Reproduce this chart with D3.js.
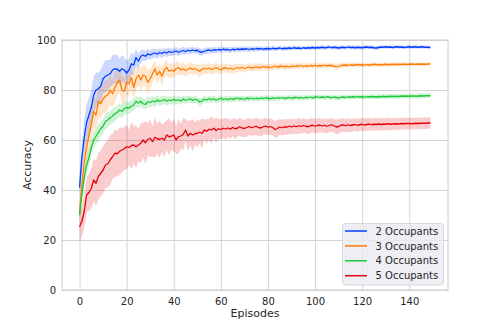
<!DOCTYPE html>
<html><head><meta charset="utf-8">
<script src="https://cdn.jsdelivr.net/npm/d3@7"></script>
<style>body{margin:0;background:#fff} text{font-family:"DejaVu Sans",sans-serif;fill:#262626}</style>
</head><body><svg id="c" width="498" height="332"></svg>
<script>
const seriesNames = ["2 Occupants","3 Occupants","4 Occupants","5 Occupants"];
const seriesColors = ["#023eff","#ff7c00","#1ac938","#e8000b"];
const xTicks = [0,20,40,60,80,100,120,140];
const yTicks = [0,20,40,60,80,100];

const mean2 = [41,53,61,67,70,73,78,80,80.5,81.5,
84.5,85.5,86,86.5,88,88.5,88.3,87.5,88.5,88,
86.8,88,90.5,90,93,91.5,93.5,94,93.5,94.5,
94,94.5,94.8,94.3,95,94.6,95.2,94.8,95.4,95,
95.3,95.6,95.1,95.5,95.8,95.4,95.9,95.6,96,95.7,
95.9,95.3,95.1,95.5,95.8,96,95.7,96.1,95.9,96.2,
96,96.3,96.1,96.2,95.9,96.3,96.1,96.4,96.2,96.4,
96.3,96.5,96.2,96.5,96.3,96.6,96.4,96.6,96.3,96.5,
96.6,96.4,96.7,96.5,96.6,96.8,96.5,96.7,96.6,96.8,
96.6,96.9,96.7,96.8,96.6,96.9,96.7,96.9,96.8,97,
96.8,97,96.9,97.1,96.9,97,97.2,96.9,97.1,97,
96.8,97,97.1,96.9,97.2,97,97.1,96.9,97.1,97,
96.9,97.1,97.2,97,97.1,96.9,96.8,97,97.2,97.1,
97.3,97.1,97.2,97,97.2,97.3,97.1,97.2,97,97.2,
97.3,97.1,97.3,97.2,97.1,97.3,97.2,97.1,97.1,97];
const band2 = [5,6,7,7.5,7,7,7.5,7,6.5,6.5,
6,6.5,6,5.5,6,5.5,6,5,5.5,5,
5,4.5,4.5,4,3.5,3,2.5,2.2,2,2.1,
1.8,2,1.7,1.9,1.6,1.8,1.5,1.7,1.6,1.5,
1.4,1.6,1.5,1.3,1.5,1.4,1.2,1.4,1.3,1.2,
1.3,1.5,1.4,1.2,1.3,1.1,1.2,1.3,1.1,1.2,
1.1,1.2,1,1.1,1.2,1,1.1,1,1.1,1,
0.9,1,1.1,0.9,1,0.9,1,0.8,0.9,1,
0.9,0.8,1,0.9,0.8,0.9,0.8,0.9,0.8,0.9,
0.8,0.9,0.7,0.8,0.9,0.8,0.7,0.8,0.9,0.8,
0.8,0.7,0.8,0.9,0.7,0.8,0.7,0.8,0.7,0.8,
0.9,0.8,0.7,0.8,0.7,0.8,0.7,0.8,0.7,0.8,
0.7,0.8,0.7,0.7,0.8,0.7,0.8,0.7,0.7,0.6,
0.7,0.6,0.7,0.7,0.6,0.7,0.6,0.7,0.6,0.6,
0.7,0.6,0.6,0.7,0.6,0.6,0.6,0.6,0.6,0.6];

const mean3 = [31,42,51,57,62,66,71.5,70,75.5,74.5,
76.5,77.5,78,80,78.5,81,83,84,80,79.5,
83,82.5,85,81,84.5,86,84,86,85.5,83,
84.5,86.5,88.5,86,87.5,85.5,88,89,87.5,88,
87.5,88.5,89,88,88.5,87.8,88.3,88.8,88.2,88.6,
88,87.5,88.3,88.7,88.4,88.8,88.2,88.6,89,88.5,
88.1,88.7,88.9,88.4,88.8,88.3,88.6,89,88.7,89.1,
88.6,88.9,89.2,88.8,89,89.3,88.9,89.1,89.4,89.1,
89.3,88.9,89.2,89.5,89.2,89.4,89.6,89.3,89.5,89.2,
89.6,89.4,89.7,89.5,89.8,89.4,89.7,89.5,89.8,89.6,
89.9,89.6,89.8,89.7,90,89.7,89.9,89.8,89.6,89.2,
89.5,89.8,89.9,90,89.8,90.1,89.9,90,90.2,90,
90.1,89.9,90.2,90,90.1,90.3,90.1,90.2,90,90.2,
90.3,90.1,90.2,90.3,90.2,90.3,90.2,90.3,90.3,90.2,
90.3,90.4,90.3,90.3,90.4,90.3,90.4,90.3,90.4,90.4];
const band3 = [4,5,6,6,6.5,6,6.5,6,6.5,6,
6,6.5,6,6,5.5,6,5.5,5,5.5,5,
5,4.5,5,4.5,4.5,4,4.5,4,4.5,5,
4,3.5,3.5,3.5,3,3.5,3,3,2.8,3,
2.5,2.8,2.5,2.3,2.5,2.2,2.4,2.1,2.3,2,
2.2,2.4,2,2.1,2,1.9,2.1,1.8,2,1.9,
1.8,1.9,1.7,1.8,1.9,1.7,1.8,1.6,1.7,1.6,
1.6,1.5,1.6,1.4,1.5,1.4,1.5,1.4,1.3,1.4,
1.3,1.4,1.3,1.2,1.3,1.2,1.3,1.2,1.2,1.3,
1.2,1.1,1.2,1.1,1.2,1.1,1,1.1,1,1.1,
1,1.1,1,0.9,1,1,0.9,1,1,1.2,
1.1,1,0.9,1,0.9,0.9,1,0.9,0.8,0.9,
0.8,0.9,0.8,0.8,0.9,0.8,0.8,0.7,0.8,0.7,
0.8,0.7,0.7,0.8,0.7,0.7,0.7,0.6,0.7,0.6,
0.6,0.7,0.6,0.6,0.6,0.6,0.6,0.6,0.6,0.6];

const mean4 = [30,38,45,50,53,57,60,61.5,63,64.5,
65.5,67.5,68,69,69.5,70.5,71,72,71.5,72.5,
73,72.8,73.5,74,75.5,74.8,75.5,74.5,74.2,75.3,
75,75.6,75.2,76,75.4,75.8,76.2,75.5,76,75.7,
76.3,75.8,76.1,75.6,76.4,75.9,76.2,76.5,75.8,76.3,
76,75.2,75.6,76.4,76,76.6,76.1,76.5,75.9,76.3,
76.7,76.2,76.5,76.1,76.6,76.3,76.5,76.8,76.4,76.6,
76.3,76.7,76.5,76.8,76.4,76.7,76.5,76.8,76.6,76.9,
76.7,76.5,76.8,76.6,76.9,76.7,77,76.6,76.8,77,
76.7,76.9,77.1,76.8,77,76.7,77.1,76.9,77.2,76.9,
77.1,77.3,77,77.2,77,77.3,77.1,76.9,77.2,77,
76.8,77.1,77.2,77,77.3,77.1,77.3,77.1,77.4,77.2,
77.3,77.1,77.4,77.2,77.4,77.3,77.2,77.4,77.3,77.5,
77.3,77.4,77.5,77.4,77.5,77.4,77.5,77.6,77.5,77.6,
77.5,77.6,77.6,77.5,77.6,77.7,77.6,77.7,77.7,77.7];
const band4 = [3,3,3.5,3.5,3.5,3.5,3.5,3,3.5,3,
3,3,3,2.8,3,2.8,2.6,2.8,2.6,2.5,
2.5,2.4,2.5,2.3,2.2,2.3,2.1,2.2,2,2.1,
2,1.9,2,1.8,1.9,1.8,1.7,1.8,1.7,1.6,
1.7,1.6,1.5,1.6,1.5,1.6,1.4,1.5,1.4,1.5,
1.4,1.5,1.4,1.3,1.4,1.3,1.4,1.3,1.2,1.3,
1.3,1.2,1.3,1.2,1.3,1.2,1.2,1.1,1.2,1.1,
1.2,1.1,1.2,1.1,1.1,1.2,1.1,1.1,1,1.1,
1.1,1,1.1,1,1.1,1,1,1.1,1,1,
1,1.1,1,1,0.9,1,1,0.9,1,1,
0.9,1,1,0.9,1,0.9,1,0.9,0.9,1,
0.9,1,0.9,0.9,1,0.9,0.9,1,0.9,0.9,
1,0.9,0.9,1,0.9,0.9,1,0.9,0.9,1,
0.9,0.9,1,0.9,0.9,1,0.9,0.9,1,0.9,
0.9,1,0.9,0.9,1,0.9,0.9,1,0.9,0.9];

const mean5 = [25.3,27.5,31.5,38,39,40.7,44,42.7,45.5,46.7,
48,50,50.5,52,53.3,54.7,54.5,55.5,56,56.5,
57.3,57,57.8,58,57.3,58,58.7,60,58.9,60.3,
60.7,59.3,61.1,60.5,60.3,60.7,60,62,61.3,61.5,
62,60,61.3,61.6,62.2,64,61.6,62.7,62,62.5,
62.7,63.1,62.7,64,63.5,64.3,64,64.7,63.8,64.5,
64.2,64.7,64.4,64.8,64.3,65,64.5,64.7,65.3,64.8,
64.6,65,65.4,64.9,65.2,65.5,65,64.8,65.3,65.6,
65.1,65.4,65,64.2,64.6,65.2,64.9,65.3,65.1,65.5,
65.2,65.6,65.3,65.7,65.4,65.8,65.5,65.3,65.7,65.9,
65.5,65.8,66,65.6,65.9,65.5,65.8,66.1,65.7,65.2,
65.4,65.9,66,65.7,66.1,65.8,66,66.2,65.9,66.1,
66.3,66,66.2,66.4,66.1,66.3,66.2,66.4,66.2,66.4,
66.3,66.5,66.3,66.4,66.5,66.4,66.5,66.6,66.5,66.6,
66.6,66.5,66.6,66.7,66.6,66.7,66.7,66.7,66.8,66.8];
const band5 = [6,6,6.5,7,7.5,8,8.5,9,9.5,9,
9.5,9,9.5,10,9,9.5,9,9.5,9,8.5,
9,7,9.5,7.5,8.5,6.5,8,7,8.5,6.5,
7.5,6,8,6,7.5,5.5,7,6,7.5,5.5,
6.5,5.5,7,5,6.5,4.5,6,5,6.5,4.5,
5.5,4.5,6,4,5,4,5.5,3.8,5,4,
4,3.8,4.4,3.6,3.8,3.5,4.1,3.4,3.6,3.5,
3.4,3.8,3.3,3.5,3.2,3.6,3.3,3.5,3.2,3.3,
3.2,3.4,3.1,3.3,3.5,3.1,3.2,3,3.2,3,
3.1,2.9,3,3.1,2.9,3,2.8,3,2.9,2.8,
2.9,2.8,2.9,2.7,2.8,2.9,2.7,2.8,2.7,3,
2.9,2.8,2.7,2.6,2.7,2.6,2.7,2.5,2.6,2.5,
2.6,2.5,2.6,2.5,2.4,2.5,2.4,2.5,2.4,2.5,
2.4,2.5,2.4,2.4,2.3,2.4,2.3,2.4,2.3,2.3,
2.4,2.3,2.3,2.4,2.3,2.3,2.3,2.3,2.3,2.3];

const means = [mean2, mean3, mean4, mean5];
const bands = [band2, band3, band4, band5];

const svg = d3.select("#c");
const L = 62, R = 448, T = 40, B = 290;
const x = d3.scaleLinear().domain([-7.45, 156.45]).range([L, R]);
const y = d3.scaleLinear().domain([0, 100]).range([B, T]);

const gx = svg.append("g").attr("transform", `translate(0,${B})`)
  .call(d3.axisBottom(x).tickValues(xTicks).tickSizeInner(-(B - T)).tickSizeOuter(0).tickPadding(8));
const gy = svg.append("g").attr("transform", `translate(${L},0)`)
  .call(d3.axisLeft(y).tickValues(yTicks).tickSizeInner(-(R - L)).tickSizeOuter(0).tickPadding(6));
[gx, gy].forEach(g => {
  g.select(".domain").remove();
  g.selectAll(".tick line").attr("stroke", "#d4d4d4").attr("stroke-width", 1);
  g.selectAll(".tick text").attr("font-size", 10).attr("fill", "#262626")
    .style("font-family", '"DejaVu Sans", sans-serif');
});

svg.append("rect").attr("x", L).attr("y", T).attr("width", R - L).attr("height", B - T)
  .attr("fill", "none").attr("stroke", "#cccccc").attr("stroke-width", 1);

const area = d3.area().x((d, i) => x(i)).y0(d => y(d[0])).y1(d => y(d[1]));
const line = d3.line().x((d, i) => x(i)).y(d => y(d));

means.forEach((m, k) => {
  const pts = m.map((v, i) => [v - bands[k][i], v + bands[k][i]]);
  svg.append("path").datum(pts).attr("d", area)
    .attr("fill", seriesColors[k]).attr("fill-opacity", 0.2).attr("stroke", "none");
});
means.forEach((m, k) => {
  svg.append("path").datum(m).attr("d", line)
    .attr("fill", "none").attr("stroke", seriesColors[k]).attr("stroke-width", 1.3)
    .attr("stroke-linejoin", "round");
});

svg.append("text").attr("x", (L + R) / 2).attr("y", 317).attr("text-anchor", "middle")
  .attr("font-size", 11).text("Episodes");
svg.append("text").attr("transform", `translate(30.5,${(T + B) / 2}) rotate(-90)`)
  .attr("text-anchor", "middle").attr("font-size", 11).text("Accuracy");

const lg = svg.append("g");
lg.append("rect").attr("x", 342.5).attr("y", 223.5).attr("width", 101).attr("height", 61.5)
  .attr("rx", 3).attr("fill", "#eaeaf2").attr("fill-opacity", 0.8)
  .attr("stroke", "#d0d0d0").attr("stroke-width", 0.8);
seriesNames.forEach((n, k) => {
  const cy = 231 + k * 14.9;
  lg.append("line").attr("x1", 345).attr("x2", 367).attr("y1", cy).attr("y2", cy)
    .attr("stroke", seriesColors[k]).attr("stroke-width", 1.5);
  lg.append("text").attr("x", 375.5).attr("y", cy + 3.6).attr("font-size", 10).text(n);
});
</script></body></html>
